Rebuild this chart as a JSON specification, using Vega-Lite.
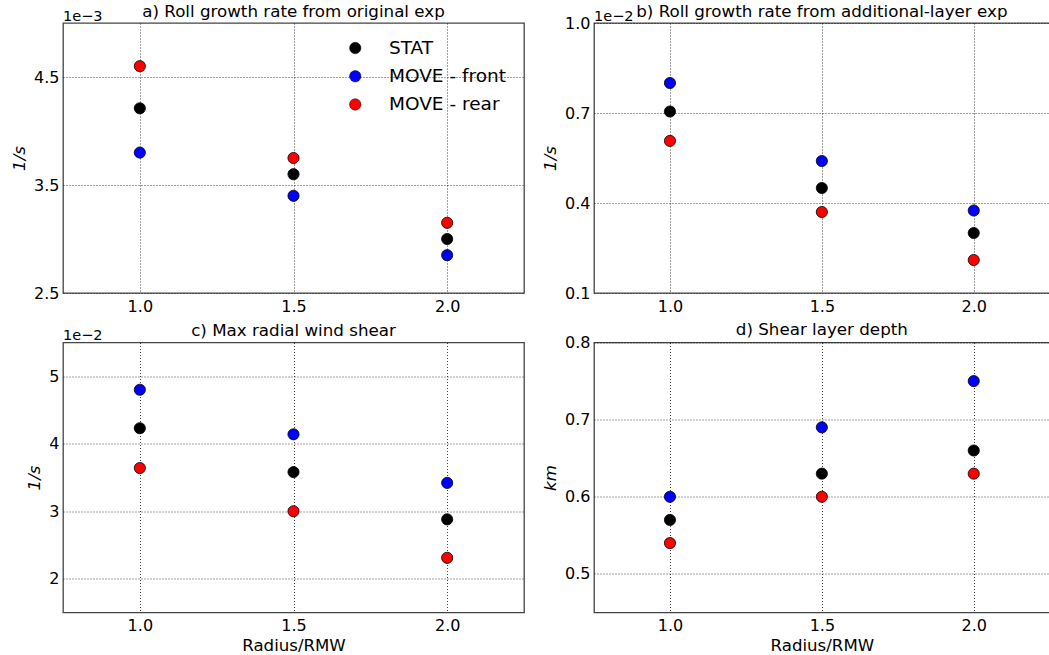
{
  "$schema": "https://vega.github.io/schema/vega-lite/v6.json",
  "autosize": {"type": "pad"},
  "padding": {"left": 10, "top": 3, "right": 0, "bottom": 0},
  "background": "white",
  "datasets": {
    "growth": [
      {"panel": "a", "radius": 1.0, "series": "STAT", "value": 4.21},
      {"panel": "a", "radius": 1.5, "series": "STAT", "value": 3.60},
      {"panel": "a", "radius": 2.0, "series": "STAT", "value": 3.00},
      {"panel": "a", "radius": 1.0, "series": "MOVE - front", "value": 3.80},
      {"panel": "a", "radius": 1.5, "series": "MOVE - front", "value": 3.40},
      {"panel": "a", "radius": 2.0, "series": "MOVE - front", "value": 2.85},
      {"panel": "a", "radius": 1.0, "series": "MOVE - rear", "value": 4.60},
      {"panel": "a", "radius": 1.5, "series": "MOVE - rear", "value": 3.75},
      {"panel": "a", "radius": 2.0, "series": "MOVE - rear", "value": 3.15},
      {"panel": "b", "radius": 1.0, "series": "STAT", "value": 0.705},
      {"panel": "b", "radius": 1.5, "series": "STAT", "value": 0.45},
      {"panel": "b", "radius": 2.0, "series": "STAT", "value": 0.30},
      {"panel": "b", "radius": 1.0, "series": "MOVE - front", "value": 0.80},
      {"panel": "b", "radius": 1.5, "series": "MOVE - front", "value": 0.54},
      {"panel": "b", "radius": 2.0, "series": "MOVE - front", "value": 0.375},
      {"panel": "b", "radius": 1.0, "series": "MOVE - rear", "value": 0.607},
      {"panel": "b", "radius": 1.5, "series": "MOVE - rear", "value": 0.37},
      {"panel": "b", "radius": 2.0, "series": "MOVE - rear", "value": 0.21},
      {"panel": "c", "radius": 1.0, "series": "STAT", "value": 4.23},
      {"panel": "c", "radius": 1.5, "series": "STAT", "value": 3.58},
      {"panel": "c", "radius": 2.0, "series": "STAT", "value": 2.88},
      {"panel": "c", "radius": 1.0, "series": "MOVE - front", "value": 4.80},
      {"panel": "c", "radius": 1.5, "series": "MOVE - front", "value": 4.14},
      {"panel": "c", "radius": 2.0, "series": "MOVE - front", "value": 3.42},
      {"panel": "c", "radius": 1.0, "series": "MOVE - rear", "value": 3.64},
      {"panel": "c", "radius": 1.5, "series": "MOVE - rear", "value": 3.00},
      {"panel": "c", "radius": 2.0, "series": "MOVE - rear", "value": 2.31},
      {"panel": "d", "radius": 1.0, "series": "STAT", "value": 0.57},
      {"panel": "d", "radius": 1.5, "series": "STAT", "value": 0.63},
      {"panel": "d", "radius": 2.0, "series": "STAT", "value": 0.66},
      {"panel": "d", "radius": 1.0, "series": "MOVE - front", "value": 0.60},
      {"panel": "d", "radius": 1.5, "series": "MOVE - front", "value": 0.69},
      {"panel": "d", "radius": 2.0, "series": "MOVE - front", "value": 0.75},
      {"panel": "d", "radius": 1.0, "series": "MOVE - rear", "value": 0.54},
      {"panel": "d", "radius": 1.5, "series": "MOVE - rear", "value": 0.60},
      {"panel": "d", "radius": 2.0, "series": "MOVE - rear", "value": 0.63}
    ]
  },
  "columns": 2,
  "bounds": "flush",
  "spacing": {"row": 49.5, "column": 70},
  "resolve": {"scale": {"y": "independent", "x": "independent"}, "legend": {"fill": "independent"}},
  "concat": [
    {
      "width": 461, "height": 270,
      "title": {"text": "a) Roll growth rate from original exp", "offset": -12},
      "layer": [
        {
          "data": {"name": "growth"},
          "transform": [{"filter": "datum.panel == 'a'"}],
          "mark": {"type": "point", "filled": true, "size": 125, "stroke": "black", "strokeWidth": 0.8, "opacity": 1},
          "encoding": {
            "x": {"field": "radius", "type": "quantitative", "scale": {"domain": [0.75, 2.25], "nice": false, "zero": false},
                  "axis": {"values": [1.0, 1.5, 2.0], "format": ".1f", "title": null}},
            "y": {"field": "value", "type": "quantitative", "scale": {"domain": [2.5, 5.0], "nice": false, "zero": false},
                  "axis": {"values": [2.5, 3.5, 4.5], "format": ".1f", "title": "1/s"}},
            "fill": {"field": "series", "type": "nominal",
                     "scale": {"domain": ["STAT", "MOVE - front", "MOVE - rear"], "range": ["#000000", "#0000ff", "#ff0000"]},
                     "legend": {"title": null, "orient": "none", "legendX": 283, "legendY": 15.8, "labelFontSize": 18.5,
                                "labelOffset": 24.5, "rowPadding": 9.2, "symbolSize": 130, "symbolType": "circle",
                                "symbolStrokeColor": "black", "symbolStrokeWidth": 0.5, "padding": 0, "labelFont": "DejaVu Sans", "labelColor": "black"}}
          }
        },
        {
          "data": {"values": [{"label": "1e−3"}]},
          "mark": {"type": "text", "align": "left", "baseline": "alphabetic", "dy": -2.5, "fontSize": 14.5, "font": "DejaVu Sans", "color": "black"},
          "encoding": {"x": {"datum": 0.75}, "y": {"datum": 5.0}, "text": {"field": "label"}}
        }
      ]
    },
    {
      "width": 455.7, "height": 270,
      "title": {"text": "b) Roll growth rate from additional-layer exp", "offset": -12},
      "layer": [
        {
          "data": {"name": "growth"},
          "transform": [{"filter": "datum.panel == 'b'"}],
          "mark": {"type": "point", "filled": true, "size": 125, "stroke": "black", "strokeWidth": 0.8, "opacity": 1},
          "encoding": {
            "x": {"field": "radius", "type": "quantitative", "scale": {"domain": [0.75, 2.25], "nice": false, "zero": false},
                  "axis": {"values": [1.0, 1.5, 2.0], "format": ".1f", "title": null}},
            "y": {"field": "value", "type": "quantitative", "scale": {"domain": [0.1, 1.0], "nice": false, "zero": false},
                  "axis": {"values": [0.1, 0.4, 0.7, 1.0], "format": ".1f", "title": "1/s"}},
            "fill": {"field": "series", "type": "nominal",
                     "scale": {"domain": ["STAT", "MOVE - front", "MOVE - rear"], "range": ["#000000", "#0000ff", "#ff0000"]},
                     "legend": null}
          }
        },
        {
          "data": {"values": [{"label": "1e−2"}]},
          "mark": {"type": "text", "align": "left", "baseline": "alphabetic", "dy": -2.5, "fontSize": 14.5, "font": "DejaVu Sans", "color": "black"},
          "encoding": {"x": {"datum": 0.75}, "y": {"datum": 1.0}, "text": {"field": "label"}}
        }
      ]
    },
    {
      "width": 461, "height": 270,
      "title": {"text": "c) Max radial wind shear", "offset": -12},
      "layer": [
        {
          "data": {"name": "growth"},
          "transform": [{"filter": "datum.panel == 'c'"}],
          "mark": {"type": "point", "filled": true, "size": 125, "stroke": "black", "strokeWidth": 0.8, "opacity": 1},
          "encoding": {
            "x": {"field": "radius", "type": "quantitative", "scale": {"domain": [0.75, 2.25], "nice": false, "zero": false},
                  "axis": {"values": [1.0, 1.5, 2.0], "format": ".1f", "title": "Radius/RMW"}},
            "y": {"field": "value", "type": "quantitative", "scale": {"domain": [1.5, 5.5], "nice": false, "zero": false},
                  "axis": {"values": [2, 3, 4, 5], "format": "d", "title": "1/s"}},
            "fill": {"field": "series", "type": "nominal",
                     "scale": {"domain": ["STAT", "MOVE - front", "MOVE - rear"], "range": ["#000000", "#0000ff", "#ff0000"]},
                     "legend": null}
          }
        },
        {
          "data": {"values": [{"label": "1e−2"}]},
          "mark": {"type": "text", "align": "left", "baseline": "alphabetic", "dy": -2.5, "fontSize": 14.5, "font": "DejaVu Sans", "color": "black"},
          "encoding": {"x": {"datum": 0.75}, "y": {"datum": 5.5}, "text": {"field": "label"}}
        }
      ]
    },
    {
      "width": 455.7, "height": 270,
      "title": {"text": "d) Shear layer depth", "offset": -4},
      "layer": [
        {
          "data": {"name": "growth"},
          "transform": [{"filter": "datum.panel == 'd'"}],
          "mark": {"type": "point", "filled": true, "size": 125, "stroke": "black", "strokeWidth": 0.8, "opacity": 1},
          "encoding": {
            "x": {"field": "radius", "type": "quantitative", "scale": {"domain": [0.75, 2.25], "nice": false, "zero": false},
                  "axis": {"values": [1.0, 1.5, 2.0], "format": ".1f", "title": "Radius/RMW"}},
            "y": {"field": "value", "type": "quantitative", "scale": {"domain": [0.45, 0.8], "nice": false, "zero": false},
                  "axis": {"values": [0.5, 0.6, 0.7, 0.8], "format": ".1f", "title": "km"}},
            "fill": {"field": "series", "type": "nominal",
                     "scale": {"domain": ["STAT", "MOVE - front", "MOVE - rear"], "range": ["#000000", "#0000ff", "#ff0000"]},
                     "legend": null}
          }
        }
      ]
    }
  ],
  "config": {
    "font": "DejaVu Sans",
    "view": {"stroke": "#444444", "strokeWidth": 1.3},
    "title": {"fontSize": 16.7, "fontWeight": "normal", "font": "DejaVu Sans", "color": "black", "anchor": "middle"},
    "axis": {
      "labelFont": "DejaVu Sans", "labelFontSize": 16, "labelColor": "black",
      "titleFont": "DejaVu Sans", "titleFontSize": 16.6, "titleFontWeight": "normal", "titleColor": "black",
      "domain": false, "ticks": false, "tickSize": 0, "labelPadding": 4,
      "grid": true, "gridColor": "#000000", "gridDash": [1, 2], "gridOpacity": 0.75, "gridWidth": 1
    },
    "axisY": {"titleFontStyle": "italic", "titlePadding": 6},
    "axisX": {"labelPadding": 5, "titlePadding": 4, "labelFlush": false},
    "axisLeft": {"labelPadding": 4}
  }
}
